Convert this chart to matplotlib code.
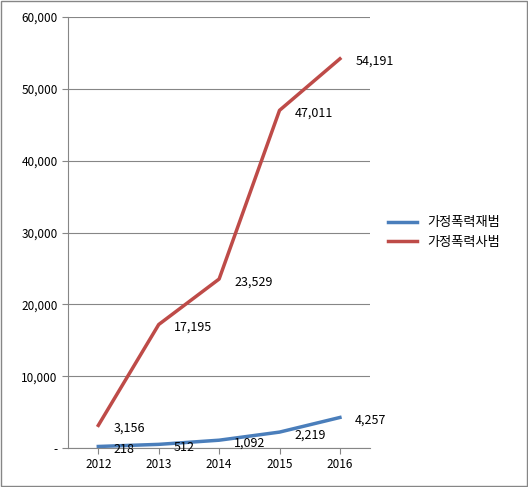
import matplotlib
matplotlib.use("Agg")
import matplotlib.pyplot as plt
from matplotlib.patches import Rectangle

plt.rcParams['font.family'] = ['Noto Sans CJK KR', 'DejaVu Sans']

years = ["2012", "2013", "2014", "2015", "2016"]
repeat = [218, 512, 1092, 2219, 4257]
first = [3156, 17195, 23529, 47011, 54191]
names = ["가정폭력재범", "가정폭력사범"]
yticks = [0, 10000, 20000, 30000, 40000, 50000, 60000]

fig = plt.figure(figsize=(5.28, 4.87), dpi=100)
ax = fig.add_axes([0.129, 0.08, 0.572, 0.885])
x = list(range(len(years)))
ax.plot(x, repeat, color="#4a7ebb", lw=2.5, label=names[0])
ax.plot(x, first, color="#be4b48", lw=2.5, label=names[1])
for xs, ys in ((x, repeat), (x, first)):
    for xi, yi in zip(xs, ys):
        ax.annotate(f"{yi:,}", (xi, yi), xytext=(11, -2), textcoords="offset points",
                    fontsize=9, ha="left", va="center")
ax.set_xlim(-0.5, 4.5)
ax.set_ylim(0, 60000)
ax.set_xticks(x)
ax.set_xticklabels(years, fontsize=8.5)
ax.set_yticks(yticks)
ax.set_yticklabels(["-" if v == 0 else f"{v:,}" for v in yticks], fontsize=8.5)
ax.grid(axis="y", color="#868686", lw=0.8)
ax.set_axisbelow(True)
for s in ["top", "right"]:
    ax.spines[s].set_visible(False)
ax.spines["left"].set_color("#868686")
ax.spines["bottom"].set_color("#868686")
ax.tick_params(axis="y", length=4, color="#868686")
ax.tick_params(axis="x", length=4, color="#868686")
ax.legend(loc="center left", bbox_to_anchor=(1.02, 0.5), frameon=False, fontsize=9.5,
          handlelength=2.2)
fig.patches.append(Rectangle((0.002, 0.002), 0.996, 0.996, transform=fig.transFigure,
                             fill=False, edgecolor="#868686", lw=1))
fig.savefig("out.png", dpi=100)
